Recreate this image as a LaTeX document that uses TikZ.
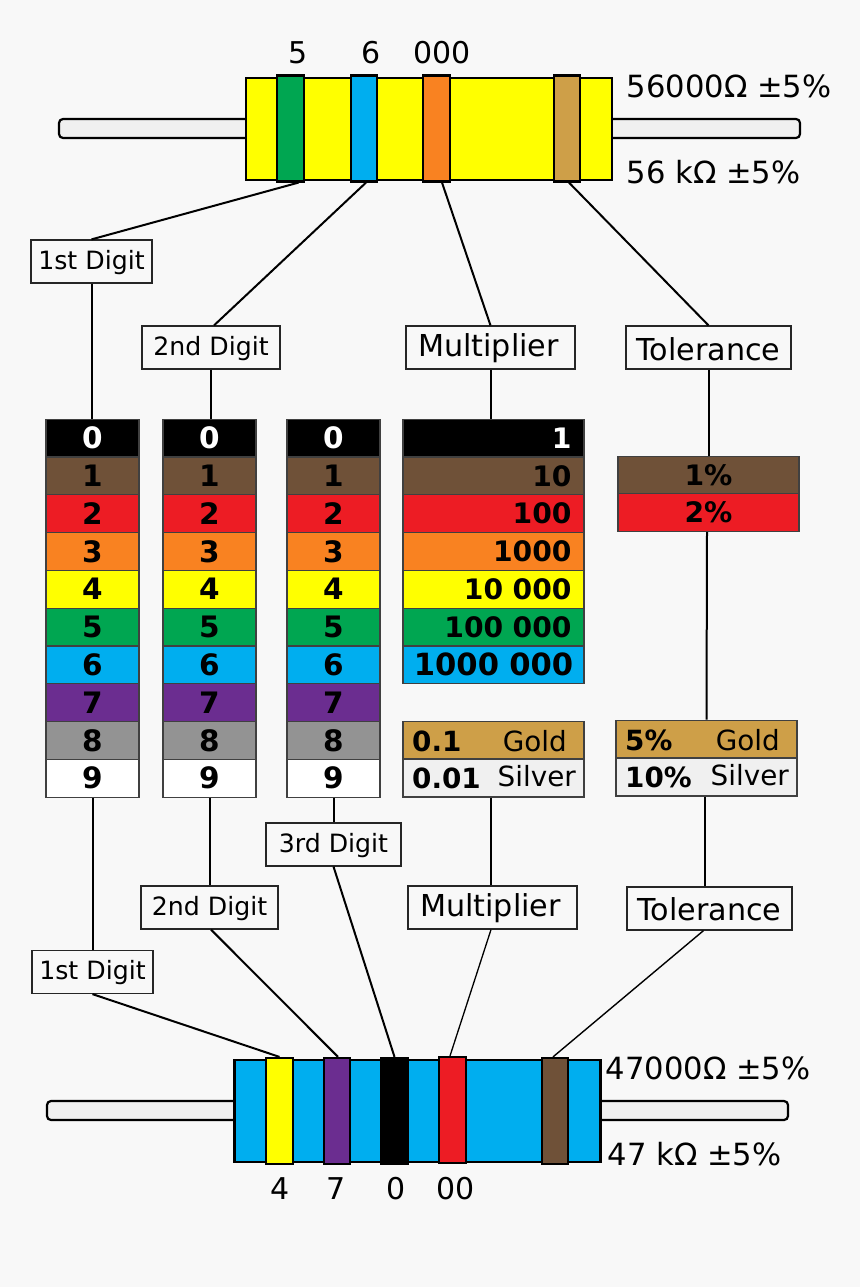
\documentclass[tikz,border=0pt]{standalone}
\usepackage{fontspec}
\setmainfont{DejaVu Sans}
\usetikzlibrary{positioning}
\definecolor{pagebg}{HTML}{F8F8F8}
\definecolor{leadgrey}{HTML}{F0F0F0}
\definecolor{cBrown}{HTML}{6F5138}
\definecolor{cRed}{HTML}{ED1C24}
\definecolor{cOrange}{HTML}{F98221}
\definecolor{cYellow}{HTML}{FFFF00}
\definecolor{cGreen}{HTML}{00A651}
\definecolor{cBlue}{HTML}{00AEEF}
\definecolor{cPurple}{HTML}{6B2D90}
\definecolor{cGrey}{HTML}{939393}
\definecolor{cGold}{HTML}{CE9F48}
\newcommand{\fsz}[1]{\fontsize{#1}{#1}\selectfont}
\tikzset{
	lead/.style = {draw, line width=2.2pt, fill=leadgrey, rounded corners=4pt, minimum width=741pt, minimum height=19pt, inner sep=0pt},
	body/.style = {draw, line width=2.2pt, minimum width=366pt, minimum height=102pt, inner sep=0pt},
	band/.style = {draw, line width=2.2pt, minimum width=26.5pt, minimum height=106pt, inner sep=0pt},
	cell/.style = {draw=black!75, line width=1.2pt, minimum width=93pt, minimum height=37.8pt, inner sep=0pt, font=\fsz{29.5}\bfseries},
	wide/.style = {cell, minimum width=181pt, font=\fsz{28.2}\bfseries},
	small/.style = {draw=black!85, line width=1.2pt, fill=pagebg, minimum height=43pt, inner sep=0pt, font=\fsz{25.2}, text height=20pt, text depth=5pt},
	big/.style = {small, font=\fsz{30.2}, text height=24pt, text depth=6pt},
	val/.style = {anchor=base, inner sep=0pt, font=\fsz{30}},
	ohmval/.style = {anchor=base west, inner sep=0pt, font=\fsz{30.6}},
	gold/.style = {anchor=base east, inner sep=0pt, font=\fsz{27.8}},
	fact/.style = {anchor=base west, inner sep=0pt, font=\fsz{27.8}\bfseries},
	con/.style = {line width=2pt}
}
\begin{document}
\begin{tikzpicture}[x=1pt, y=-1pt]
	\fill [pagebg] (0,0) rectangle (860,1287);
	\useasboundingbox (0,0) rectangle (860,1287);
	% upper resistor
	\node [lead] (leadT) at (429.5,128.5) {};
	\node [body, fill=cYellow] (bodyT) at (429,129) {};
	\node [band, fill=cGreen] (bandT1) at (290.5,128.5) {};
	\node [band, fill=cBlue] (bandT2) at (364,128.5) {};
	\node [band, fill=cOrange] (bandT3) at (436.5,128.5) {};
	\node [band, fill=cGold] (bandT4) at (567,128.5) {};
	\node [val] (numT1) at (298.5,64) {5};
	\node [val] (numT2) at (371,64) {6};
	\node [val] (numT3) at (442,64) {000};
	\node [ohmval] (ohmT) at (626.5,98) {56000Ω ±5\%};
	\node [ohmval] (kohmT) at (626.5,183) {56 kΩ ±5\%};
	% lower resistor
	\node [lead] (leadB) at (417.5,1110.5) {};
	\node [body, fill=cBlue] (bodyB) at (417.5,1111) {};
	\node [band, fill=cYellow] (bandB1) at (279.5,1111) {};
	\node [band, fill=cPurple] (bandB2) at (337,1111) {};
	\node [band, fill=black] (bandB3) at (394.5,1111) {};
	\node [band, fill=cRed] (bandB4) at (452.5,1110) {};
	\node [band, fill=cBrown] (bandB5) at (555,1111) {};
	\node [val] (numB1) at (280.5,1199) {4};
	\node [val] (numB2) at (336.5,1199) {7};
	\node [val] (numB3) at (396,1199) {0};
	\node [val] (numB4) at (456,1199) {00};
	\node [ohmval] (ohmB) at (605.5,1079) {47000Ω ±5\%};
	\node [ohmval] (kohmB) at (607.5,1165) {47 kΩ ±5\%};
	% digit columns
	\foreach \col/\cx in {A/92.5, B/209.5, C/333.5}
		\foreach \i/\cc/\tc in {0/black/white, 1/cBrown/black, 2/cRed/black, 3/cOrange/black, 4/cYellow/black, 5/cGreen/black, 6/cBlue/black, 7/cPurple/black, 8/cGrey/black, 9/white/black}
			\node [cell, fill=\cc, text=\tc] (\col\i) at (\cx,{438+37.8*\i}) {\i};
	% multiplier column
	\foreach \i/\cc/\tc/\num in {0/black/white/1, 1/cBrown/black/10, 2/cRed/black/100, 3/cOrange/black/1000, 4/cYellow/black/10 000, 5/cGreen/black/100 000}
		\node [wide, fill=\cc, text=\tc, text width=156pt, align=right] (M\i) at (493.5,{438+37.8*\i}) {\num};
	\node [wide, fill=cBlue, text width=160pt, align=center, font=\fsz{30.6}\bfseries] (M6) at (493.5,664.8) {1000 000};
	\node [wide, fill=cGold] (Mgold) at (493.5,740) {};
	\node [wide, fill=leadgrey] (Msilver) at (493.5,778) {};
	\node [fact] (Mgoldv) at (412,751) {0.1};
	\node [gold] (Mgoldn) at (567,751) {Gold};
	\node [fact] (Msilverv) at (412,788) {0.01};
	\node [gold] (Msilvern) at (576,786) {Silver};
	% tolerance column
	\node [wide, fill=cBrown] (T1) at (708.5,475) {1\%};
	\node [wide, fill=cRed] (T2) at (708.5,512.5) {2\%};
	\node [wide, fill=cGold] (Tgold) at (706.5,739) {};
	\node [wide, fill=leadgrey] (Tsilver) at (706.5,777) {};
	\node [fact] (Tgoldv) at (625,750) {5\%};
	\node [gold] (Tgoldn) at (780,750) {Gold};
	\node [fact] (Tsilverv) at (625,787) {10\%};
	\node [gold] (Tsilvern) at (789,785) {Silver};
	% labels
	\node [small, minimum width=121pt] (labA) at (91.5,261.5) {1st Digit};
	\node [small, minimum width=138pt] (labB) at (211,347.5) {2nd Digit};
	\node [big, minimum width=169pt] (labM) at (490.5,347.5) {\kern-4pt Multiplier};
	\node [big, minimum width=165pt, text height=25pt, text depth=0pt] (labT) at (708.5,347.5) {Tolerance};
	\node [small, minimum width=135pt] (lowC) at (333.5,844.5) {3rd Digit};
	\node [small, minimum width=137pt] (lowB) at (209.5,907.5) {2nd Digit};
	\node [small, minimum width=121pt] (lowA) at (92.5,972) {1st Digit};
	\node [big, minimum width=169pt] (lowM) at (492.5,907.5) {\kern-4pt Multiplier};
	\node [big, minimum width=165pt, text height=23pt, text depth=0pt] (lowT) at (709.5,908.5) {Tolerance};
	% connectors
	\draw [con] ([xshift=8pt]bandT1.south) -- (labA.north);
	\draw [con] ([xshift=2pt]bandT2.south) -- ([xshift=3pt]labB.north);
	\draw [con] ([xshift=5.5pt]bandT3.south) -- (labM.north);
	\draw [con] ([xshift=2pt]bandT4.south) -- (labT.north);
	\draw [con] (labA.south) -- (labA.south |- A0.north);
	\draw [con] (labB.south) -- (labB.south |- B0.north);
	\draw [con] (labM.south) -- (labM.south |- M0.north);
	\draw [con] (labT.south) -- (labT.south |- T1.north);
	\draw [con] ([xshift=-1.5pt]T2.south) -- (Tgold.north);
	\draw [con] (A9.south) -- (lowA.north);
	\draw [con] (B9.south) -- (lowB.north);
	\draw [con] (C9.south) -- (lowC.north);
	\draw [con] ([xshift=-3pt]Msilver.south) -- ([xshift=-2pt]lowM.north);
	\draw [con] ([xshift=-2pt]Tsilver.south) -- ([xshift=-5pt]lowT.north);
	\draw [con] (lowA.south) -- (bandB1.north);
	\draw [con] ([xshift=1.5pt]lowB.south) -- ([xshift=1pt]bandB2.north);
	\draw [con] (lowC.south) -- (bandB3.north);
	\draw [line width=1.3pt] ([xshift=-1.5pt]lowM.south) -- ([xshift=-2.5pt]bandB4.north);
	\draw [line width=1.4pt] ([xshift=-6pt]lowT.south) -- ([xshift=-2pt]bandB5.north);
\end{tikzpicture}
\end{document}
